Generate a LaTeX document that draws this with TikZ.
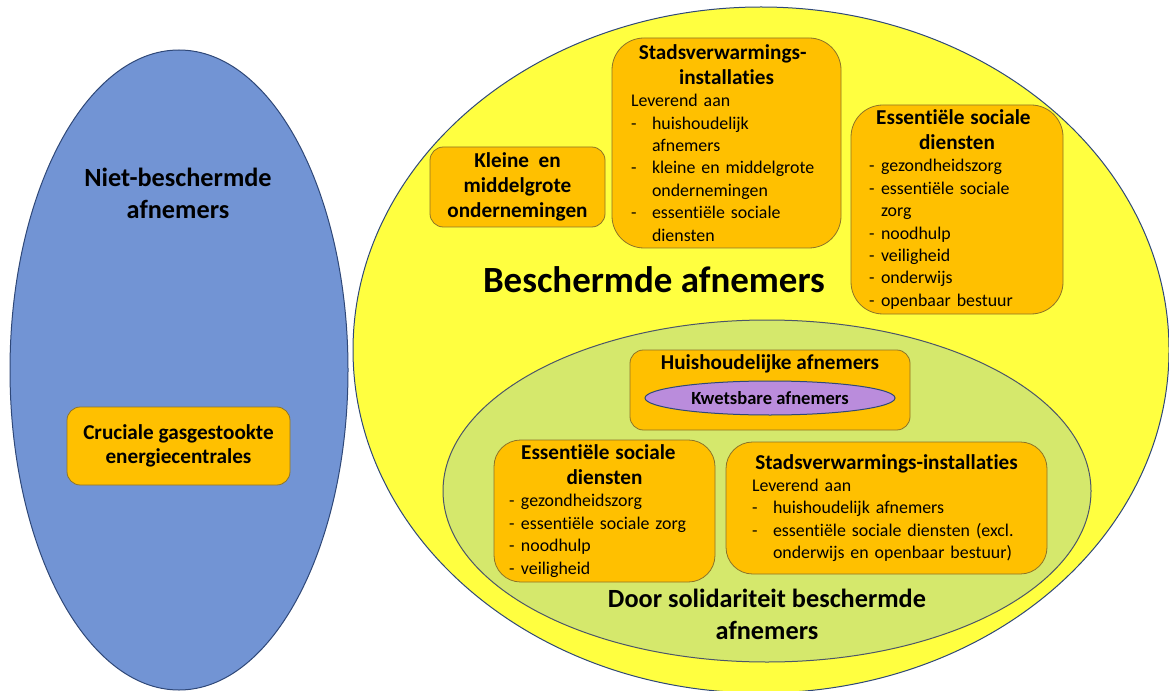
\documentclass[tikz,border=0pt]{standalone}
\usepackage{fontspec}
\setmainfont[Ligatures=NoCommon]{Carlito}
\usetikzlibrary{shapes.geometric}

\definecolor{blauw}{RGB}{114,148,212}
\definecolor{geel}{RGB}{255,255,64}
\definecolor{groen}{RGB}{213,232,108}
\definecolor{oranje}{RGB}{255,192,0}
\definecolor{paars}{RGB}{186,140,220}
\definecolor{ellipsrand}{RGB}{47,72,120}
\definecolor{groenrand}{RGB}{75,85,105}
\definecolor{vakrand}{RGB}{140,115,40}

% kop in een vak en een opsommingsregel met hangende inspringing
\newcommand{\vakkop}[1]{{\centering\fontsize{15.9}{18.5}\selectfont\bfseries #1\par}}
\newcommand{\streep}[2][9pt]{\par\hangindent=#1\hangafter=1\noindent\makebox[#1][l]{-}#2\par}

\tikzset{
    ellips/.style={ellipse, draw=ellipsrand, line width=0.75pt, inner sep=0pt},
    vak/.style={draw=vakrand, fill=oranje, line width=0.6pt, rounded corners=#1,
        inner ysep=0pt, align=left, font=\fontsize{13.4}{16.8}\selectfont},
    vak/.default=10pt,
    titel/.style={align=center, font=\fontsize{19.7}{24}\selectfont\bfseries},
}

\begin{document}
\begin{tikzpicture}[x=0.75pt, y=-0.75pt]
    % 1 px
    \def\px{0.75pt}

    \useasboundingbox (0,0) rectangle (1169,691);
    \clip (0,0) rectangle (1169,691);

    % ellipsen
    \node[ellips, fill=blauw, minimum width=338*\px, minimum height=640*\px] (nietbeschermd) at (179,370) {};
    \node[ellips, fill=geel, minimum width=816*\px, minimum height=686*\px] (beschermd) at (761,350) {};
    \node[ellips, draw=groenrand, fill=groen, minimum width=648*\px, minimum height=342*\px] (solidair) at (767,491) {};

    % titels
    \node[titel] (niettitel) at (178,193) {Niet-beschermde\\afnemers};
    \node[titel, font=\fontsize{27.7}{32}\selectfont\bfseries] (beschermdtitel) at (654,280) {Beschermde afnemers};
    \node[titel] (solidairtitel) at (767,614) {Door solidariteit beschermde\\afnemers};

    % niet-beschermd
    \node[vak, align=center, minimum width=223*\px, minimum height=78*\px,
        font=\fontsize{15.9}{18.5}\selectfont\bfseries] (centrales) at (178.5,446)
        {Cruciale gasgestookte\\energiecentrales};

    % beschermd
    \node[vak, align=center, minimum width=175*\px, minimum height=80*\px,
        font=\fontsize{15.9}{19}\selectfont\bfseries] (kmo) at (517.5,187)
        {Kleine\ \ en\\middelgrote\\ondernemingen};

    \node[vak=24pt, text width=191*\px, inner xsep=19*\px, minimum height=210*\px] (stadsboven) at (726.5,143) {%
        \vakkop{Stadsverwarmings-\newline installaties}
        Leverend aan
        \streep[15.75pt]{huishoudelijk\newline afnemers}
        \streep[15.75pt]{kleine en middelgrote\newline ondernemingen}
        \streep[15.75pt]{essentiële sociale\newline diensten}};

    \node[vak=24pt, text width=176*\px, inner xsep=18*\px, minimum height=209*\px] (essboven) at (957,209.5) {%
        \vakkop{Essentiële sociale\newline diensten}
        \streep{gezondheidszorg}
        \streep{essentiële sociale\newline zorg}
        \streep{noodhulp}
        \streep{veiligheid}
        \streep{onderwijs}
        \streep{openbaar bestuur}};

    % door solidariteit beschermd
    \node[vak, minimum width=280*\px, minimum height=80*\px] (huishoud) at (770,390) {};
    \node[font=\fontsize{15.9}{18.5}\selectfont\bfseries] (huistitel) at (770,364) {Huishoudelijke afnemers};
    \node[ellips, fill=paars, minimum width=250*\px, minimum height=34*\px,
        font=\fontsize{13.9}{16}\selectfont\bfseries] (kwetsbaar) at (770,398) {Kwetsbare afnemers};

    \node[vak=20pt, text width=191*\px, inner xsep=15*\px, minimum height=142*\px] (essonder) at (604.5,511) {%
        \vakkop{Essentiële sociale\newline diensten}
        \streep{gezondheidszorg}
        \streep{essentiële sociale zorg}
        \streep{noodhulp}
        \streep{veiligheid}};

    \node[vak=20pt, text width=269*\px, inner xsep=26*\px, minimum height=132*\px] (stadsonder) at (886.5,508) {%
        \vakkop{Stadsverwarmings-installaties}
        Leverend aan
        \streep[15.75pt]{huishoudelijk afnemers}
        \streep[15.75pt]{essentiële sociale diensten (excl.\newline onderwijs en openbaar bestuur)}};
\end{tikzpicture}
\end{document}
